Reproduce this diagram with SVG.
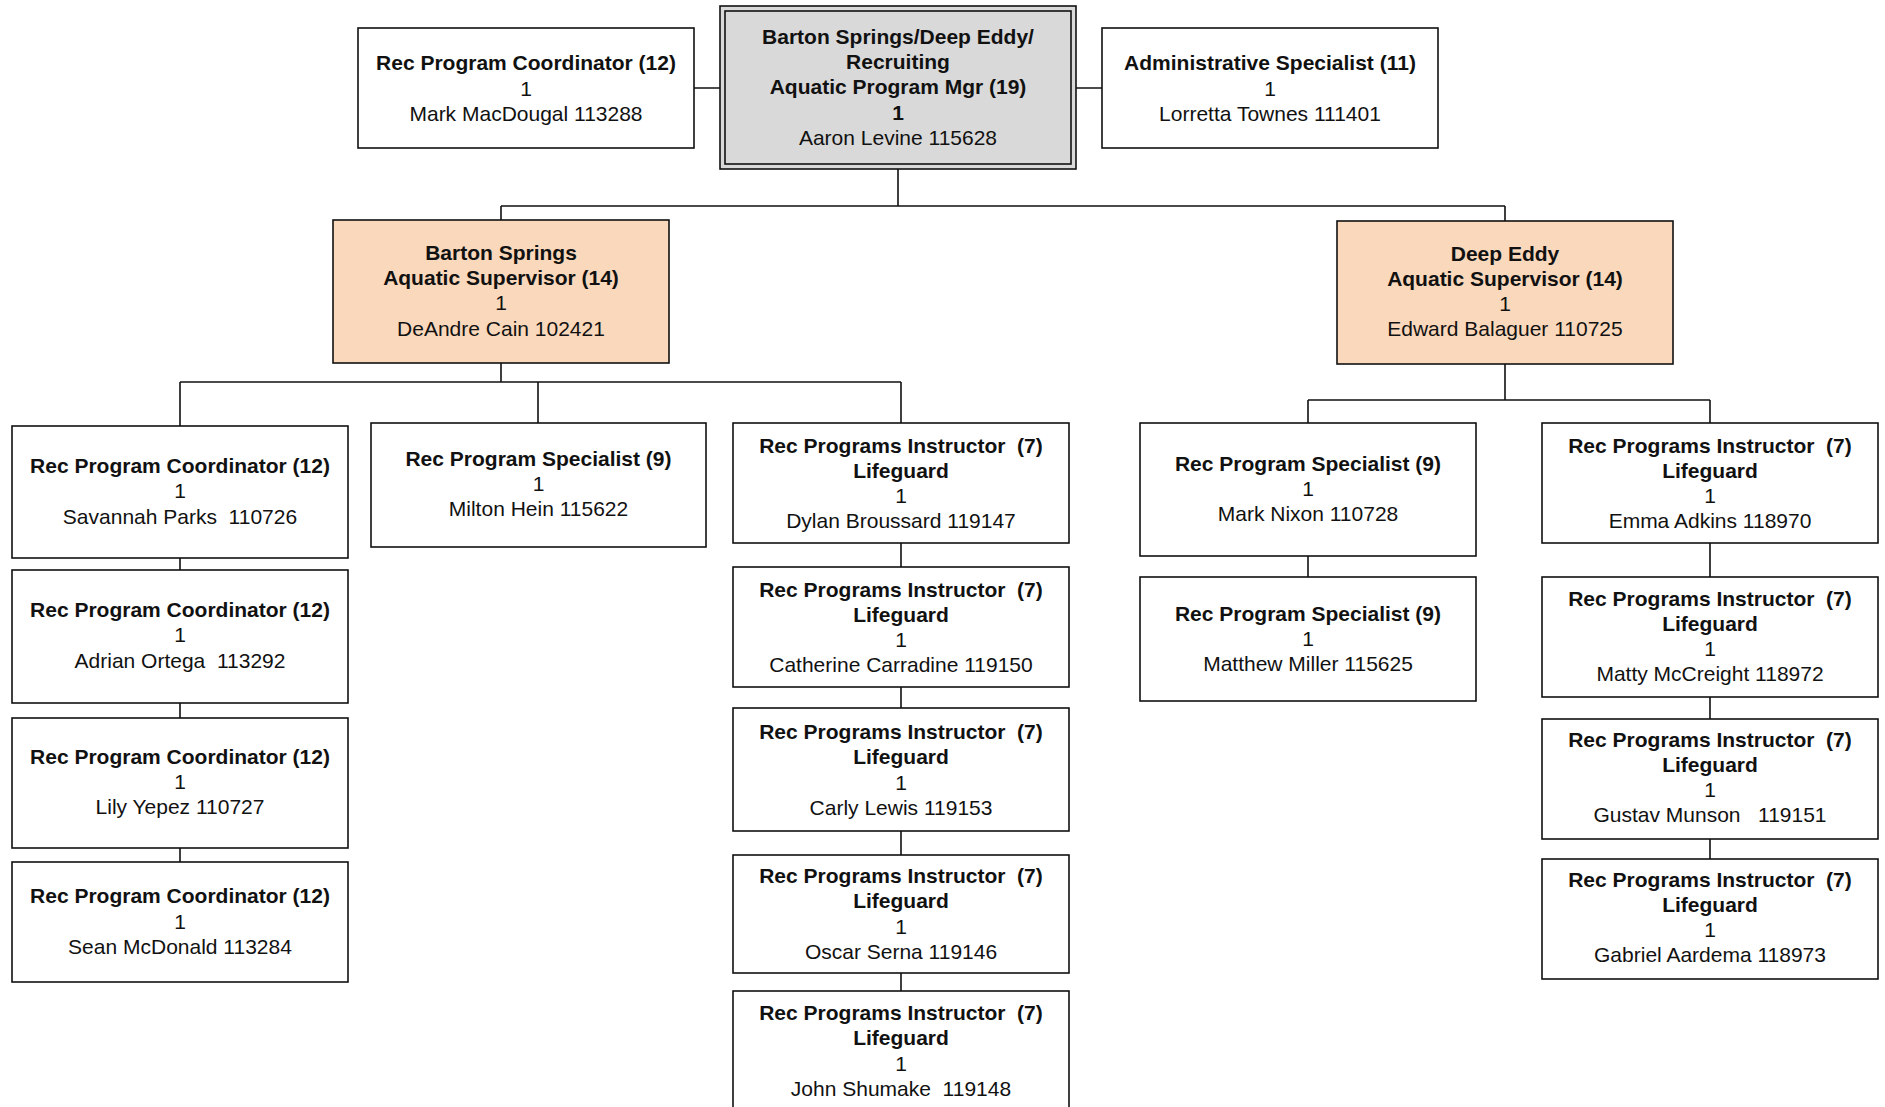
<svg xmlns="http://www.w3.org/2000/svg" width="1885" height="1107" viewBox="0 0 1885 1107">
<style>
.box{fill:#ffffff;stroke:#111111;stroke-width:1.6}
.sup{fill:#fad8bc;stroke:#111111;stroke-width:1.6}
.mgr{fill:#d9d9d9;stroke:#111111;stroke-width:1.6}
text{font-family:"Liberation Sans",Arial,sans-serif;font-size:21px;fill:#111111;text-anchor:middle;white-space:pre}
.b{font-weight:bold}
.conn{fill:none;stroke:#111111;stroke-width:1.6}
</style>
<rect width="1885" height="1107" fill="#ffffff"/>
<g id="connectors" class="conn">
<path d="M694 88H720M1076 88H1102"/>
<path d="M898 169V206M501 206H1505M501 206V220M1505 206V221"/>
<path d="M501 363V382M180 382H901M180 382V426M538 382V423M901 382V423"/>
<path d="M180 558V570M180 703V718M180 848V862"/>
<path d="M901 543V567M901 687V708M901 831V855M901 973V991"/>
<path d="M1505 364V400M1308 400H1710M1308 400V423M1710 400V423"/>
<path d="M1308 556V577"/>
<path d="M1710 543V577M1710 697V719M1710 839V859"/>
</g>
<g id="n-macdougal"><rect class="box" x="358" y="28" width="336" height="120"/>
<text x="526" y="70.3" class="b">Rec Program Coordinator (12)</text><text x="526" y="95.5">1</text><text x="526" y="120.7">Mark MacDougal 113288</text></g>
<g id="n-levine"><rect class="mgr" x="720" y="6" width="356" height="163"/><rect class="mgr" x="725" y="11" width="346" height="153"/>
<text x="898" y="44" class="b">Barton Springs/Deep Eddy/</text><text x="898" y="69.2" class="b">Recruiting</text><text x="898" y="94.4" class="b">Aquatic Program Mgr (19)</text><text x="898" y="119.6" class="b">1</text><text x="898" y="144.8">Aaron Levine 115628</text></g>
<g id="n-townes"><rect class="box" x="1102" y="28" width="336" height="120"/>
<text x="1270" y="70.3" class="b">Administrative Specialist (11)</text><text x="1270" y="95.5">1</text><text x="1270" y="120.7">Lorretta Townes 111401</text></g>
<g id="n-cain"><rect class="sup" x="333" y="220" width="336" height="143"/>
<text x="501" y="260" class="b">Barton Springs</text><text x="501" y="285.2" class="b">Aquatic Supervisor (14)</text><text x="501" y="310.4">1</text><text x="501" y="335.6">DeAndre Cain 102421</text></g>
<g id="n-balaguer"><rect class="sup" x="1337" y="221" width="336" height="143"/>
<text x="1505" y="260.5" class="b">Deep Eddy</text><text x="1505" y="285.7" class="b">Aquatic Supervisor (14)</text><text x="1505" y="310.9">1</text><text x="1505" y="336.1">Edward Balaguer 110725</text></g>
<g id="n-parks"><rect class="box" x="12" y="426" width="336" height="132"/>
<text x="180" y="472.5" class="b">Rec Program Coordinator (12)</text><text x="180" y="498">1</text><text x="180" y="523.5">Savannah Parks  110726</text></g>
<g id="n-ortega"><rect class="box" x="12" y="570" width="336" height="133"/>
<text x="180" y="617" class="b">Rec Program Coordinator (12)</text><text x="180" y="642.3">1</text><text x="180" y="667.5">Adrian Ortega  113292</text></g>
<g id="n-yepez"><rect class="box" x="12" y="718" width="336" height="130"/>
<text x="180" y="763.5" class="b">Rec Program Coordinator (12)</text><text x="180" y="789">1</text><text x="180" y="814">Lily Yepez 110727</text></g>
<g id="n-mcdonald"><rect class="box" x="12" y="862" width="336" height="120"/>
<text x="180" y="903" class="b">Rec Program Coordinator (12)</text><text x="180" y="928.5">1</text><text x="180" y="953.5">Sean McDonald 113284</text></g>
<g id="n-hein"><rect class="box" x="371" y="423" width="335" height="124"/>
<text x="538.5" y="465.5" class="b">Rec Program Specialist (9)</text><text x="538.5" y="490.8">1</text><text x="538.5" y="516">Milton Hein 115622</text></g>
<g id="n-broussard"><rect class="box" x="733" y="423" width="336" height="120"/>
<text x="901" y="452.5" class="b">Rec Programs Instructor  (7)</text><text x="901" y="477.5" class="b">Lifeguard</text><text x="901" y="502.5">1</text><text x="901" y="528">Dylan Broussard 119147</text></g>
<g id="n-carradine"><rect class="box" x="733" y="567" width="336" height="120"/>
<text x="901" y="596.7" class="b">Rec Programs Instructor  (7)</text><text x="901" y="621.9" class="b">Lifeguard</text><text x="901" y="647.1">1</text><text x="901" y="672.3">Catherine Carradine 119150</text></g>
<g id="n-lewis"><rect class="box" x="733" y="708" width="336" height="123"/>
<text x="901" y="739.2" class="b">Rec Programs Instructor  (7)</text><text x="901" y="764.4" class="b">Lifeguard</text><text x="901" y="789.6">1</text><text x="901" y="814.8">Carly Lewis 119153</text></g>
<g id="n-serna"><rect class="box" x="733" y="855" width="336" height="118"/>
<text x="901" y="883.2" class="b">Rec Programs Instructor  (7)</text><text x="901" y="908.4" class="b">Lifeguard</text><text x="901" y="933.6">1</text><text x="901" y="958.8">Oscar Serna 119146</text></g>
<g id="n-shumake"><rect class="box" x="733" y="991" width="336" height="124"/>
<text x="901" y="1019.5" class="b">Rec Programs Instructor  (7)</text><text x="901" y="1045" class="b">Lifeguard</text><text x="901" y="1070.5">1</text><text x="901" y="1095.5">John Shumake  119148</text></g>
<g id="n-nixon"><rect class="box" x="1140" y="423" width="336" height="133"/>
<text x="1308" y="470.5" class="b">Rec Program Specialist (9)</text><text x="1308" y="495.7">1</text><text x="1308" y="521">Mark Nixon 110728</text></g>
<g id="n-miller"><rect class="box" x="1140" y="577" width="336" height="124"/>
<text x="1308" y="620.5" class="b">Rec Program Specialist (9)</text><text x="1308" y="645.7">1</text><text x="1308" y="671">Matthew Miller 115625</text></g>
<g id="n-adkins"><rect class="box" x="1542" y="423" width="336" height="120"/>
<text x="1710" y="452.5" class="b">Rec Programs Instructor  (7)</text><text x="1710" y="477.5" class="b">Lifeguard</text><text x="1710" y="502.5">1</text><text x="1710" y="528">Emma Adkins 118970</text></g>
<g id="n-mccreight"><rect class="box" x="1542" y="577" width="336" height="120"/>
<text x="1710" y="605.5" class="b">Rec Programs Instructor  (7)</text><text x="1710" y="630.7" class="b">Lifeguard</text><text x="1710" y="655.9">1</text><text x="1710" y="681.1">Matty McCreight 118972</text></g>
<g id="n-munson"><rect class="box" x="1542" y="719" width="336" height="120"/>
<text x="1710" y="746.8" class="b">Rec Programs Instructor  (7)</text><text x="1710" y="772" class="b">Lifeguard</text><text x="1710" y="797.2">1</text><text x="1710" y="822.4">Gustav Munson   119151</text></g>
<g id="n-aardema"><rect class="box" x="1542" y="859" width="336" height="120"/>
<text x="1710" y="886.7" class="b">Rec Programs Instructor  (7)</text><text x="1710" y="911.9" class="b">Lifeguard</text><text x="1710" y="937.1">1</text><text x="1710" y="962.3">Gabriel Aardema 118973</text></g>
</svg>
